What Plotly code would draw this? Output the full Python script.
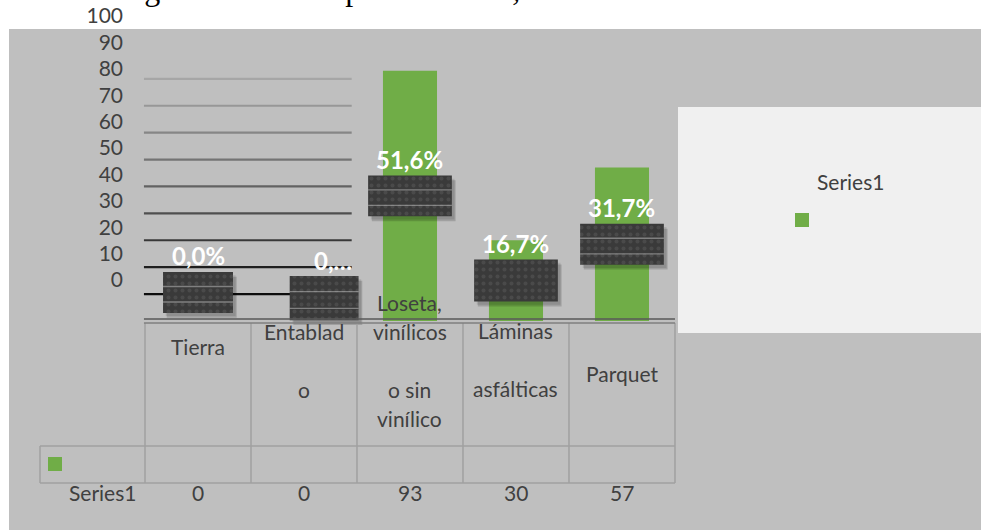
import plotly.graph_objects as go

TITLE = "Privada Virgen de Guadalupe-Chimbote, 2018"
SERIES_NAME = "Series1"
CATEGORIES = [
    "Tierra",
    "Entablado",
    "Loseta, vinílicos o sin vinílico",
    "Láminas asfálticas",
    "Parquet",
]
CATEGORY_LINES = [
    ["Tierra"],
    ["Entablad", "", "o"],
    ["Loseta,", "vinílicos", "", "o sin", "vinílico"],
    ["Láminas", "", "asfálticas"],
    ["Parquet"],
]
VALUES = [0, 0, 93, 30, 57]
PERCENT_LABELS = ["0,0%", "0,…", "51,6%", "16,7%", "31,7%"]
Y_TICKS = list(range(0, 101, 10))
GRID_LEVELS = list(range(10, 100, 10))

# ---- styling / layout constants ----
W, H, LEFT = 981, 530, 130
BAR_COLOUR = "#70AD47"
BG_COLOUR = "#BFBFBF"
PANEL_COLOUR = "#F0F0F0"
TEXT_COLOUR = "#404040"
BOX_COLOUR = "#3A3A3A"
TABLE_LINE = "#A0A0A0"
FONT = "Lato"
TEXT_SIZE = 21
GRID_COLOURS = ["#0D0D0D", "#1F1F1F", "#383838", "#4F4F4F", "#626262",
                "#747474", "#868686", "#979797", "#A6A6A6"]

BOX_WIDTH = [0.66, 0.65, 0.79, 0.79, 0.79]
BOX_SHIFT = [0.0, 0.19, 0.0, 0.0, 0.0]
BOX_HEIGHT = [15.2, 16.4, 15.2, 15.6, 15.2]
BOX_LIFT = [10.6, 8.5, 0.0, 0.0, 0.0]
BOX_STRIPES = [1, 1, 1, 0, 1]
STRIPE_FRACS = [0.37, 0.75]
LABEL_XSHIFT = [0, 29, 0, 0, 0]
LINE_CENTRES = [346, 360, 360, 359, 373]
LINE_STEP = 29


def py(px):
    return 1 - px / H


def pxx(px):
    return (px - LEFT) / (W - LEFT)


def text_font(size=TEXT_SIZE, colour=TEXT_COLOUR):
    return dict(family=FONT, size=size, color=colour)


box_mid = [v / 2 + lift for v, lift in zip(VALUES, BOX_LIFT)]
box_base = [m - h / 2 for m, h in zip(box_mid, BOX_HEIGHT)]
box_top = [b + h for b, h in zip(box_base, BOX_HEIGHT)]
box_offset = [-w / 2 + s for w, s in zip(BOX_WIDTH, BOX_SHIFT)]

fig = go.Figure()

fig.add_trace(
    go.Bar(
        x=CATEGORIES,
        y=VALUES,
        width=0.51,
        name=SERIES_NAME,
        marker=dict(color=BAR_COLOUR, line=dict(width=0)),
        showlegend=False,
    )
)

# soft shadow under the label boxes
for k, alpha in enumerate([0.10, 0.16]):
    fig.add_trace(
        go.Bar(
            x=CATEGORIES,
            y=BOX_HEIGHT,
            base=[b - 1.2 - 0.6 * k for b in box_base],
            width=BOX_WIDTH,
            offset=[o + 0.025 + 0.01 * k for o in box_offset],
            marker=dict(color=f"rgba(0,0,0,{alpha})", line=dict(width=0)),
            showlegend=False,
            hoverinfo="skip",
        )
    )

fig.add_trace(
    go.Bar(
        x=CATEGORIES,
        y=BOX_HEIGHT,
        base=box_base,
        width=BOX_WIDTH,
        offset=box_offset,
        marker=dict(
            color=BOX_COLOUR,
            line=dict(width=0),
            pattern=dict(shape=".", fgcolor="#5A5A5A", bgcolor=BOX_COLOUR,
                         size=7, solidity=0.25),
        ),
        showlegend=False,
        hoverinfo="skip",
    )
)

# faint light stripes across the label boxes
for frac in STRIPE_FRACS:
    fig.add_trace(
        go.Bar(
            x=CATEGORIES,
            y=[0.5 * s for s in BOX_STRIPES],
            base=[t - frac * h for t, h in zip(box_top, BOX_HEIGHT)],
            width=BOX_WIDTH,
            offset=box_offset,
            marker=dict(color="rgba(215,215,215,0.45)", line=dict(width=0)),
            showlegend=False,
            hoverinfo="skip",
        )
    )

# invisible trace so the shifted tick axis is drawn
fig.add_trace(
    go.Scatter(x=[CATEGORIES[0]], y=[0], yaxis="y2", mode="markers",
               marker=dict(opacity=0), showlegend=False, hoverinfo="skip")
)

shapes = [
    dict(type="rect", xref="paper", yref="paper", x0=pxx(9), x1=1,
         y0=0, y1=py(29), fillcolor=BG_COLOUR, line=dict(width=0), layer="below"),
    dict(type="rect", xref="paper", yref="paper", x0=pxx(678), x1=1,
         y0=py(333), y1=py(107), fillcolor=PANEL_COLOUR, line=dict(width=0),
         layer="below"),
]
for level, colour in zip(GRID_LEVELS, GRID_COLOURS):
    shapes.append(dict(type="line", xref="x", yref="y", x0=-0.51, x1=1.45,
                       y0=level, y1=level, line=dict(color=colour, width=2.2),
                       layer="below"))

# data table under the plot
for i in range(len(CATEGORIES) + 1):
    shapes.append(dict(type="line", xref="x", yref="paper", x0=i - 0.5, x1=i - 0.5,
                       y0=py(483), y1=py(323), line=dict(color=TABLE_LINE, width=1.5)))
shapes += [
    dict(type="line", xref="x", yref="paper", x0=-0.51, x1=4.5, y0=py(319), y1=py(319),
         line=dict(color="#595959", width=1.5)),
    dict(type="line", xref="x", yref="paper", x0=-0.51, x1=4.5, y0=py(323), y1=py(323),
         line=dict(color="#7F7F7F", width=1.5)),
    dict(type="line", xref="paper", yref="paper", x0=pxx(40), x1=pxx(675),
         y0=py(446), y1=py(446), line=dict(color=TABLE_LINE, width=1.5)),
    dict(type="line", xref="paper", yref="paper", x0=pxx(40), x1=pxx(675),
         y0=py(483), y1=py(483), line=dict(color=TABLE_LINE, width=1.5)),
    dict(type="line", xref="paper", yref="paper", x0=pxx(40), x1=pxx(40),
         y0=py(483), y1=py(446), line=dict(color=TABLE_LINE, width=1.5)),
    dict(type="rect", xref="paper", yref="paper", x0=pxx(48), x1=pxx(62),
         y0=py(471), y1=py(457), fillcolor=BAR_COLOUR, line=dict(width=0)),
    dict(type="rect", xref="paper", yref="paper", x0=pxx(795), x1=pxx(809),
         y0=py(227), y1=py(213), fillcolor=BAR_COLOUR, line=dict(width=0)),
]

annotations = [
    dict(text=TITLE, xref="paper", yref="paper", x=pxx(-3), y=py(-11),
         xanchor="left", yanchor="middle", showarrow=False,
         font=dict(family="Liberation Serif", size=32, color="#000000")),
    dict(text=SERIES_NAME, xref="paper", yref="paper", x=pxx(850), y=py(182),
         xanchor="center", yanchor="middle", showarrow=False, font=text_font()),
    dict(text=SERIES_NAME, xref="paper", yref="paper", x=pxx(102), y=py(492),
         xanchor="center", yanchor="middle", showarrow=False, font=text_font()),
]
for cat, label, top, xs in zip(CATEGORIES, PERCENT_LABELS, box_top, LABEL_XSHIFT):
    annotations.append(dict(text=f"<b>{label}</b>", x=cat, y=top, xref="x", yref="y",
                            xanchor="center", yanchor="middle", yshift=16, xshift=xs,
                            showarrow=False, font=text_font(24, "#FFFFFF")))
for cat, lines, centre, val in zip(CATEGORIES, CATEGORY_LINES, LINE_CENTRES, VALUES):
    n = len(lines)
    for j, line in enumerate(lines):
        if not line:
            continue
        annotations.append(dict(text=line, x=cat, xref="x", yref="paper",
                                y=py(centre + (j - (n - 1) / 2) * LINE_STEP),
                                xanchor="center", yanchor="middle",
                                showarrow=False, font=text_font()))
    annotations.append(dict(text=str(val), x=cat, xref="x", yref="paper", y=py(492),
                            xanchor="center", yanchor="middle",
                            showarrow=False, font=text_font()))

fig.update_layout(
    width=W,
    height=H,
    margin=dict(l=LEFT, r=0, t=0, b=0),
    paper_bgcolor="white",
    plot_bgcolor="rgba(0,0,0,0)",
    barmode="overlay",
    showlegend=False,
    xaxis=dict(range=[-0.6415, 7.387], showgrid=False, zeroline=False,
               showticklabels=False, showline=False, ticks="",
               categoryorder="array", categoryarray=CATEGORIES),
    yaxis=dict(range=[-77.7, 119.3], showgrid=False, zeroline=False,
               showticklabels=False, showline=False, ticks=""),
    yaxis2=dict(range=[-94.7, 106.06], overlaying="y", side="left",
                tickvals=Y_TICKS, showgrid=False, zeroline=False, showline=False,
                ticks="", ticklabelstandoff=6, tickfont=text_font()),
    shapes=shapes,
    annotations=annotations,
)

fig.write_html(
    "out.html",
    config={"displayModeBar": False},
    post_script="document.body.style.margin='0';",
)
